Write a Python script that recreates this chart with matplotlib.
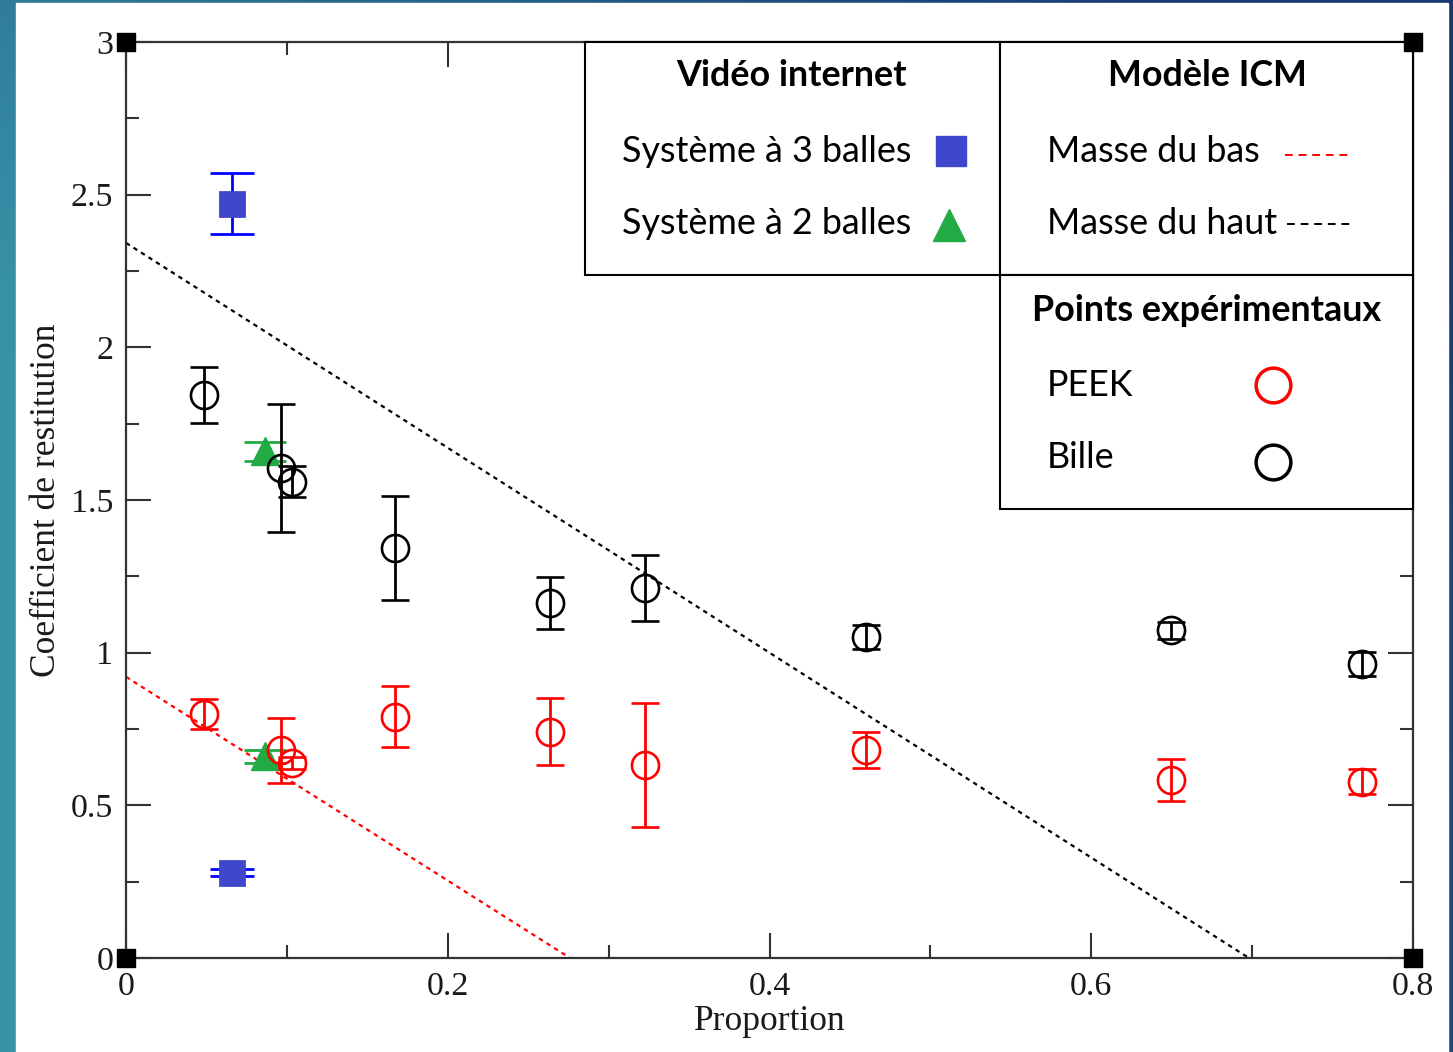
import numpy as np
import matplotlib
matplotlib.use("Agg")
import matplotlib.pyplot as plt
from matplotlib.patches import Rectangle
from matplotlib.lines import Line2D

# proportion values of the experimental runs
x_exp = [0.0485, 0.0962, 0.103, 0.167, 0.2636, 0.3226, 0.46, 0.6496, 0.7683]
# bille (black) and PEEK (red) restitution coefficients with errors
bille = [1.844, 1.605, 1.56, 1.343, 1.163, 1.212, 1.052, 1.074, 0.963]
bille_err = [0.091, 0.21, 0.05, 0.169, 0.084, 0.108, 0.04, 0.028, 0.04]
peek = [0.799, 0.68, 0.638, 0.79, 0.741, 0.632, 0.681, 0.583, 0.578]
peek_err = [0.049, 0.106, 0.02, 0.1, 0.109, 0.203, 0.059, 0.07, 0.041]

# internet video points
x_3balles = [0.066, 0.066]
y_3balles = [2.47, 0.279]
err_3balles = [0.1, 0.011]
x_2balles = [0.0864, 0.0864]
y_2balles = [1.659, 0.66]
err_2balles = [0.031, 0.02]

# ICM model lines
x_haut = [0.0, 0.698]
y_haut = [2.342, 0.0]
x_bas = [0.0, 0.276]
y_bas = [0.921, 0.0]

xticks = [0, 0.2, 0.4, 0.6, 0.8]
xlabels = ["0", "0.2", "0.4", "0.6", "0.8"]
yticks = [0, 0.5, 1, 1.5, 2, 2.5, 3]
ylabels = ["0", "0.5", "1", "1.5", "2", "2.5", "3"]

W, H = 1453, 1052
fig = plt.figure(figsize=(W / 100, H / 100), dpi=100)

# slide background: teal to navy gradient with white page on top
bg = fig.add_axes([0, 0, 1, 1], zorder=-10)
gx, gy = np.meshgrid(np.linspace(0, 1, 200), np.linspace(0, 1, 150))
teal = np.array([0.22, 0.58, 0.66])
navy = np.array([0.09, 0.22, 0.44])
w = np.clip(0.9 * gx + 0.35 * (1 - gy) ** 3 - 0.1, 0, 1)[..., None]
bg.imshow(teal * (1 - w) + navy * w, aspect="auto", extent=[0, 1, 0, 1])
bg.axis("off")
fig.patches.append(Rectangle((16 / W, 0), (1448 - 16) / W, 1 - 3 / H,
                             transform=fig.transFigure, color="white", zorder=-5))

ax = fig.add_axes([126 / W, 94 / H, 1287 / W, 916 / H])
ax.set_facecolor("white")

# model lines
ax.plot(x_haut, y_haut, color="black", lw=1.6, ls=(0, (2, 2)), zorder=2)
ax.plot(x_bas, y_bas, color="red", lw=1.6, ls=(0, (2, 2)), zorder=2)

# experimental points
ax.errorbar(x_exp, peek, yerr=peek_err, fmt="o", ms=19.5, mfc="none", mec="red",
            mew=1.9, ecolor="red", elinewidth=2, capsize=10.4, capthick=2, zorder=3)
ax.errorbar(x_exp, bille, yerr=bille_err, fmt="o", ms=19.5, mfc="none", mec="black",
            mew=1.9, ecolor="black", elinewidth=2, capsize=10.4, capthick=2, zorder=3)

# video points
ax.errorbar(x_3balles, y_3balles, yerr=err_3balles, fmt="s", ms=17, mfc="#3f48cc",
            mec="#3f48cc", mew=2, ecolor="blue", elinewidth=2, capsize=15.5, capthick=2,
            zorder=4)
ax.errorbar(x_2balles, y_2balles, yerr=err_2balles, fmt="^", ms=20, mfc="#22aa44",
            mec="#22aa44", ecolor="#22aa44", elinewidth=2, capsize=14.8, capthick=2, zorder=2.8)

ax.set_xlim(0, 0.8)
ax.set_ylim(0, 3)
ax.set_xticks(xticks, xlabels)
ax.set_yticks(yticks, ylabels)
ax.set_xticks(np.arange(0.1, 0.8, 0.2), minor=True)
ax.set_yticks(np.arange(0.25, 3, 0.5), minor=True)

ax.tick_params(which="both", direction="in", top=True, right=True, color="#333333", width=1.5,
               labelsize=24.5, labelfontfamily="Liberation Serif", labelcolor="#1a1a1a")
ax.tick_params(which="major", length=18)
ax.tick_params(which="minor", length=9.5)
ax.tick_params(axis="x", which="major", pad=10)
ax.tick_params(axis="y", which="major", pad=9)
for sp in ax.spines.values():
    sp.set_color("#333333")
    sp.set_linewidth(1.6)

ax.set_xlabel("Proportion", fontfamily="Liberation Serif", fontsize=25.5, color="#1a1a1a", labelpad=2)
ax.set_ylabel("Coefficient de restitution", fontfamily="Liberation Serif", fontsize=25.5,
              color="#1a1a1a", labelpad=6)

# corner squares of the frame
ax.plot([0, 0, 1, 1], [0, 1, 1, 0], "s", ms=13, color="black",
        transform=ax.transAxes, clip_on=False, zorder=6)

# legend table
T = ax.transAxes
for (x0, y0, x1, y1) in [(0.3566, 0.7456, 0.6791, 1.0),
                         (0.6791, 0.7456, 1.0, 1.0),
                         (0.6791, 0.4902, 1.0, 0.7456)]:
    ax.add_patch(Rectangle((x0, y0), x1 - x0, y1 - y0, transform=T, facecolor="white",
                           edgecolor="black", lw=1.5, clip_on=False, zorder=5))

lg = {"family": "Lato", "size": 25.8, "color": "black"}
hd = dict(lg, weight="bold")
txt = [
    (0.5167, 0.9629, "Vidéo internet", hd, "center"),
    (0.8400, 0.9629, "Modèle ICM", hd, "center"),
    (0.8400, 0.7074, "Points expérimentaux", hd, "center"),
    (0.3854, 0.8810, "Système à 3 balles", lg, "left"),
    (0.3854, 0.8024, "Système à 2 balles", lg, "left"),
    (0.7156, 0.8810, "Masse du bas", lg, "left"),
    (0.7156, 0.8024, "Masse du haut", lg, "left"),
    (0.7156, 0.6255, "PEEK", lg, "left"),
    (0.7156, 0.5459, "Bille", lg, "left"),
]
for x, y, s, f, ha in txt:
    ax.text(x, y, s, transform=T, ha=ha, va="center", fontdict=f, zorder=7, clip_on=False)

keys = [
    Line2D([0.641], [0.881], marker="s", ms=22, color="#3f48cc", ls="none"),
    Line2D([0.6395], [0.800], marker="^", ms=23, color="#22aa44", ls="none"),
    Line2D([0.9005, 0.9511], [0.8766, 0.8766], color="red", lw=1.4, ls=(0, (4, 3))),
    Line2D([0.9021, 0.9526], [0.8013, 0.8013], color="black", lw=1.4, ls=(0, (4, 3))),
    Line2D([0.8912], [0.6255], marker="o", ms=25, mfc="none", mec="red", mew=2.5, ls="none"),
    Line2D([0.8912], [0.5415], marker="o", ms=25, mfc="none", mec="black", mew=2.5, ls="none"),
]
for k in keys:
    k.set_transform(T)
    k.set_clip_on(False)
    k.set_zorder(7)
    ax.add_line(k)

fig.savefig("out.png", dpi=100)
